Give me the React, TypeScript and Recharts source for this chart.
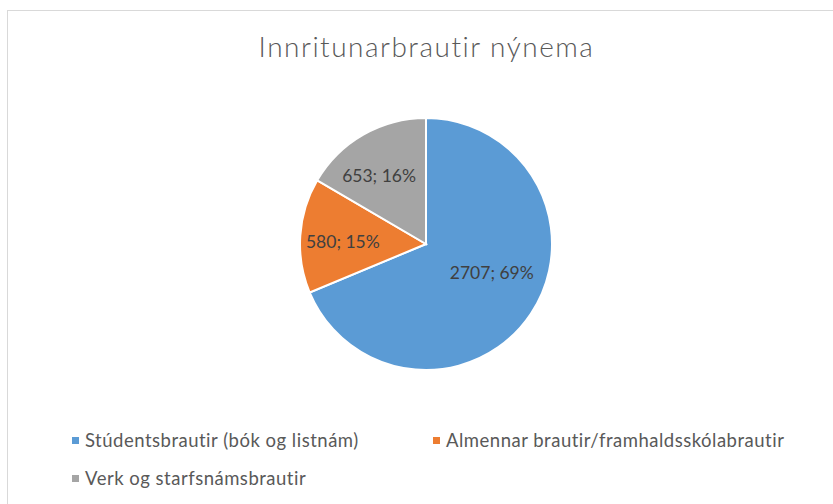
import { PieChart, Pie, Cell, Legend } from 'recharts';

const categories = [
  'Stúdentsbrautir (bók og listnám)',
  'Almennar brautir/framhaldsskólabrautir',
  'Verk og starfsnámsbrautir',
];
const values = [2707, 580, 653];
const percentLabels = ['69%', '15%', '16%'];
const colors = ['#5b9bd5', '#ed7d31', '#a5a5a5'];

// data label placement: share of the radius, and nudge of the angle in degrees
const labelRadius = [0.57, 0.66, 0.66];
const labelShift = [10, 2.4, 4.5];

// legend layout (column x, row y) relative to the legend box
const legendPos = [
  { left: 2, top: 0 },
  { left: 363, top: 0 },
  { left: 2, top: 38 },
];

const data = categories.map((name, i) => ({ name, value: values[i], pct: percentLabels[i] }));

const FONT = 'Lato, "Open Sans", sans-serif';

const RADIAN = Math.PI / 180;

function renderLabel(props: any) {
  const { cx, cy, midAngle, outerRadius, index } = props;
  const r = outerRadius * labelRadius[index];
  const a = (midAngle + labelShift[index]) * RADIAN;
  const x = cx + r * Math.cos(-a);
  const y = cy + r * Math.sin(-a);
  return (
    <text
      x={x}
      y={y}
      fill="#404040"
      fontSize={17.5}
      fontFamily={FONT}
      textAnchor="middle"
      dominantBaseline="central"
    >
      {`${values[index]}; ${percentLabels[index]}`}
    </text>
  );
}

function renderLegend() {
  return (
    <div
      style={{
        position: 'relative',
        width: 760,
        height: 70,
        fontFamily: FONT,
        fontSize: 18.5,
        letterSpacing: 0.5,
        lineHeight: '22px',
        color: '#595959',
      }}
    >
      {categories.map((name, i) => (
        <div
          key={name}
          style={{
            position: 'absolute',
            left: legendPos[i].left,
            top: legendPos[i].top,
            display: 'flex',
            alignItems: 'center',
            whiteSpace: 'nowrap',
          }}
        >
          <span style={{ display: 'inline-block', width: 7, height: 7, background: colors[i], marginRight: 6 }} />
          {name}
        </div>
      ))}
    </div>
  );
}

export default function App() {
  return (
    <div style={{ position: 'absolute', left: 0, top: 0, width: 833, height: 504, background: '#fff' }}>
      <div
        style={{
          position: 'absolute',
          left: 7,
          top: 10,
          width: 826,
          height: 494,
          borderTop: '1px solid #d9d9d9',
          borderLeft: '1px solid #d9d9d9',
        }}
      />
      <div
        style={{
          position: 'absolute',
          left: 0,
          top: 29,
          width: 853,
          textAlign: 'center',
          fontFamily: FONT,
          fontSize: 28,
          fontWeight: 300,
          letterSpacing: 1.5,
          color: '#595959',
        }}
      >
        Innritunarbrautir nýnema
      </div>
      <PieChart
        width={833}
        height={504}
        margin={{ top: 0, right: 0, bottom: 0, left: 0 }}
        style={{ position: 'absolute', left: 0, top: 0 }}
      >
        <Pie
          data={data}
          dataKey="value"
          nameKey="name"
          cx={426}
          cy={244}
          outerRadius={126}
          startAngle={90}
          endAngle={-270}
          stroke="#ffffff"
          strokeWidth={2}
          label={renderLabel}
          labelLine={false}
          isAnimationActive={false}
        >
          {data.map((d, i) => (
            <Cell key={d.name} fill={colors[i]} />
          ))}
        </Pie>
        <Legend
          content={renderLegend}
          wrapperStyle={{ position: 'absolute', left: 70, top: 429, width: 760 }}
        />
      </PieChart>
    </div>
  );
}
